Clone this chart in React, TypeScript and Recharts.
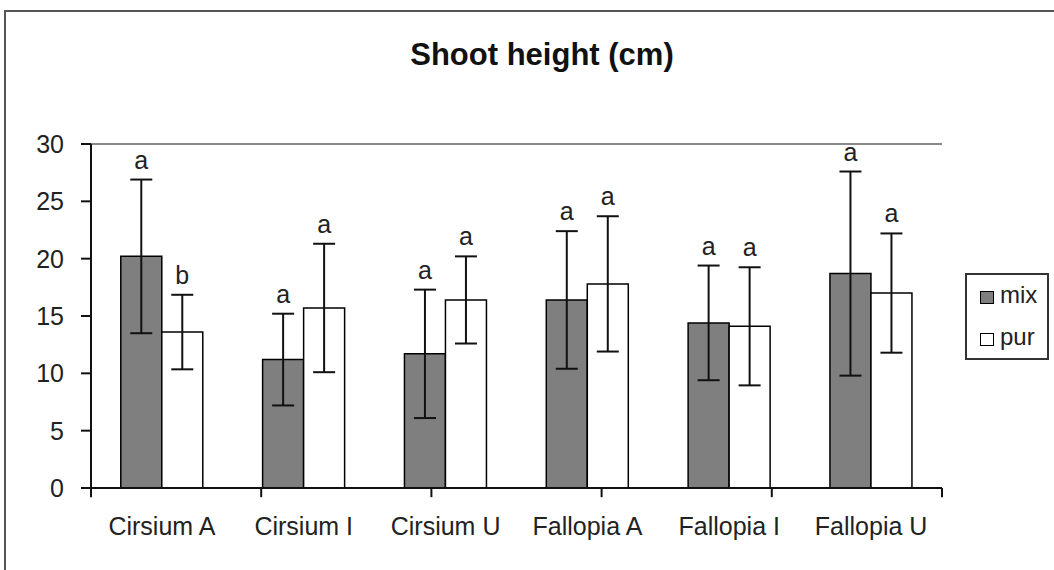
import React from "react";
import {
  BarChart,
  Bar,
  XAxis,
  YAxis,
  ErrorBar,
  LabelList,
  ReferenceLine,
  Legend,
} from "recharts";

const categories = ["Cirsium A", "Cirsium I", "Cirsium U", "Fallopia A", "Fallopia I", "Fallopia U"];
const mixValues = [20.2, 11.2, 11.7, 16.4, 14.4, 18.7];
const mixErrors = [6.7, 4.0, 5.6, 6.0, 5.0, 8.9];
const purValues = [13.6, 15.7, 16.4, 17.8, 14.1, 17.0];
const purErrors = [3.25, 5.6, 3.8, 5.9, 5.15, 5.2];
const mixLetters = ["a", "a", "a", "a", "a", "a"];
const purLetters = ["b", "a", "a", "a", "a", "a"];
const yTicks = [0, 5, 10, 15, 20, 25, 30];
const boundaryTicks = [0, 1, 2, 3, 4, 5, 6];

const data = categories.map((name, i) => ({
  name,
  mix: mixValues[i],
  mixErr: mixErrors[i],
  mixSig: mixLetters[i],
  pur: purValues[i],
  purErr: purErrors[i],
  purSig: purLetters[i],
}));

const FONT = "'Liberation Sans', Arial, sans-serif";
const MIX_FILL = "#7f7f7f";

const makeSig = (vals: number[], errs: number[]) => (props: any) => {
  const x = Number(props.x);
  const y = Number(props.y);
  const w = Number(props.width);
  const h = Number(props.height);
  const idx = props.index;
  const ppu = h / vals[idx];
  const top = y - errs[idx] * ppu;
  return (
    <text x={x + w / 2} y={top - 11} textAnchor="middle" fontSize={25} fill="#222" fontFamily={FONT}>
      {props.value}
    </text>
  );
};

const LegendBox = (props: any) => {
  const payload = props.payload || [];
  return (
    <div
      style={{
        width: 80,
        height: 83,
        border: "2px solid #333",
        background: "#fff",
        fontFamily: FONT,
        fontSize: 24,
        color: "#222",
        boxSizing: "content-box",
      }}
    >
      {payload.map((p: any, i: number) => (
        <div key={i} style={{ position: "relative", height: 26, marginTop: i === 0 ? 13 : 16 }}>
          <div
            style={{
              position: "absolute",
              left: 13,
              top: 3,
              width: 12,
              height: 11,
              background: p.value === "mix" ? MIX_FILL : "#fff",
              border: "1px solid #000",
            }}
          />
          <span style={{ position: "absolute", left: 33, top: -6, lineHeight: "26px" }}>{p.value}</span>
        </div>
      ))}
    </div>
  );
};

export default function App() {
  return (
    <div
      style={{
        position: "absolute",
        left: 0,
        top: 0,
        width: 1054,
        height: 570,
        overflow: "hidden",
        background: "#fff",
      }}
    >
      <div
        style={{
          position: "absolute",
          left: 4,
          top: 10,
          width: 1100,
          height: 620,
          border: "2px solid #555",
        }}
      />
      <div
        style={{
          position: "absolute",
          left: 0,
          top: 39,
          width: 1084,
          textAlign: "center",
          fontFamily: FONT,
          fontSize: 31,
          fontWeight: "bold",
          lineHeight: "31px",
          color: "#111",
        }}
      >
        Shoot height (cm)
      </div>
      <div style={{ position: "absolute", left: 0, top: 0 }}>
        <BarChart
          width={1054}
          height={570}
          data={data}
          margin={{ top: 144, right: 112, bottom: 42, left: 0 }}
          barCategoryGap="21%"
          barGap={0}
          style={{ fontFamily: FONT }}
        >
          <XAxis
            dataKey="name"
            xAxisId="cat"
            tickLine={false}
            tickSize={0}
            tickMargin={29}
            height={40}
            axisLine={{ stroke: "#111", strokeWidth: 2 }}
            tick={{ fontSize: 25, fill: "#222", fontFamily: FONT }}
            interval={0}
          />
          <XAxis xAxisId="n" type="number" domain={[0, 6]} hide />
          <YAxis
            domain={[0, 30]}
            ticks={yTicks}
            width={91}
            tickSize={10}
            tickMargin={17}
            interval={0}
            axisLine={{ stroke: "#111", strokeWidth: 2 }}
            tickLine={{ stroke: "#111", strokeWidth: 2 }}
            tick={{ fontSize: 25, fill: "#222", fontFamily: FONT }}
          />
          <ReferenceLine y={30} xAxisId="cat" stroke="#8a8a8a" strokeWidth={2} />
          <ReferenceLine x={6} xAxisId="n" stroke="#8a8a8a" strokeWidth={2} />
          {boundaryTicks.map((t) => (
            <ReferenceLine
              key={t}
              xAxisId="n"
              ifOverflow="visible"
              segment={[
                { x: t, y: 0 },
                { x: t, y: -0.8 },
              ]}
              stroke="#111"
              strokeWidth={2}
            />
          ))}
          <Legend
            layout="vertical"
            align="center"
            verticalAlign="middle"
            content={<LegendBox />}
            wrapperStyle={{ position: "absolute", left: 965, top: 273, width: 84, height: 87 }}
          />
          <Bar
            dataKey="mix"
            name="mix"
            xAxisId="cat"
            fill={MIX_FILL}
            stroke="#000"
            strokeWidth={1.5}
            isAnimationActive={false}
          >
            <ErrorBar dataKey="mixErr" width={11} strokeWidth={2} stroke="#111" isAnimationActive={false} />
            <LabelList dataKey="mixSig" content={makeSig(mixValues, mixErrors)} />
          </Bar>
          <Bar
            dataKey="pur"
            name="pur"
            xAxisId="cat"
            fill="#fff"
            stroke="#000"
            strokeWidth={1.5}
            isAnimationActive={false}
          >
            <ErrorBar dataKey="purErr" width={11} strokeWidth={2} stroke="#111" isAnimationActive={false} />
            <LabelList dataKey="purSig" content={makeSig(purValues, purErrors)} />
          </Bar>
        </BarChart>
      </div>
    </div>
  );
}
